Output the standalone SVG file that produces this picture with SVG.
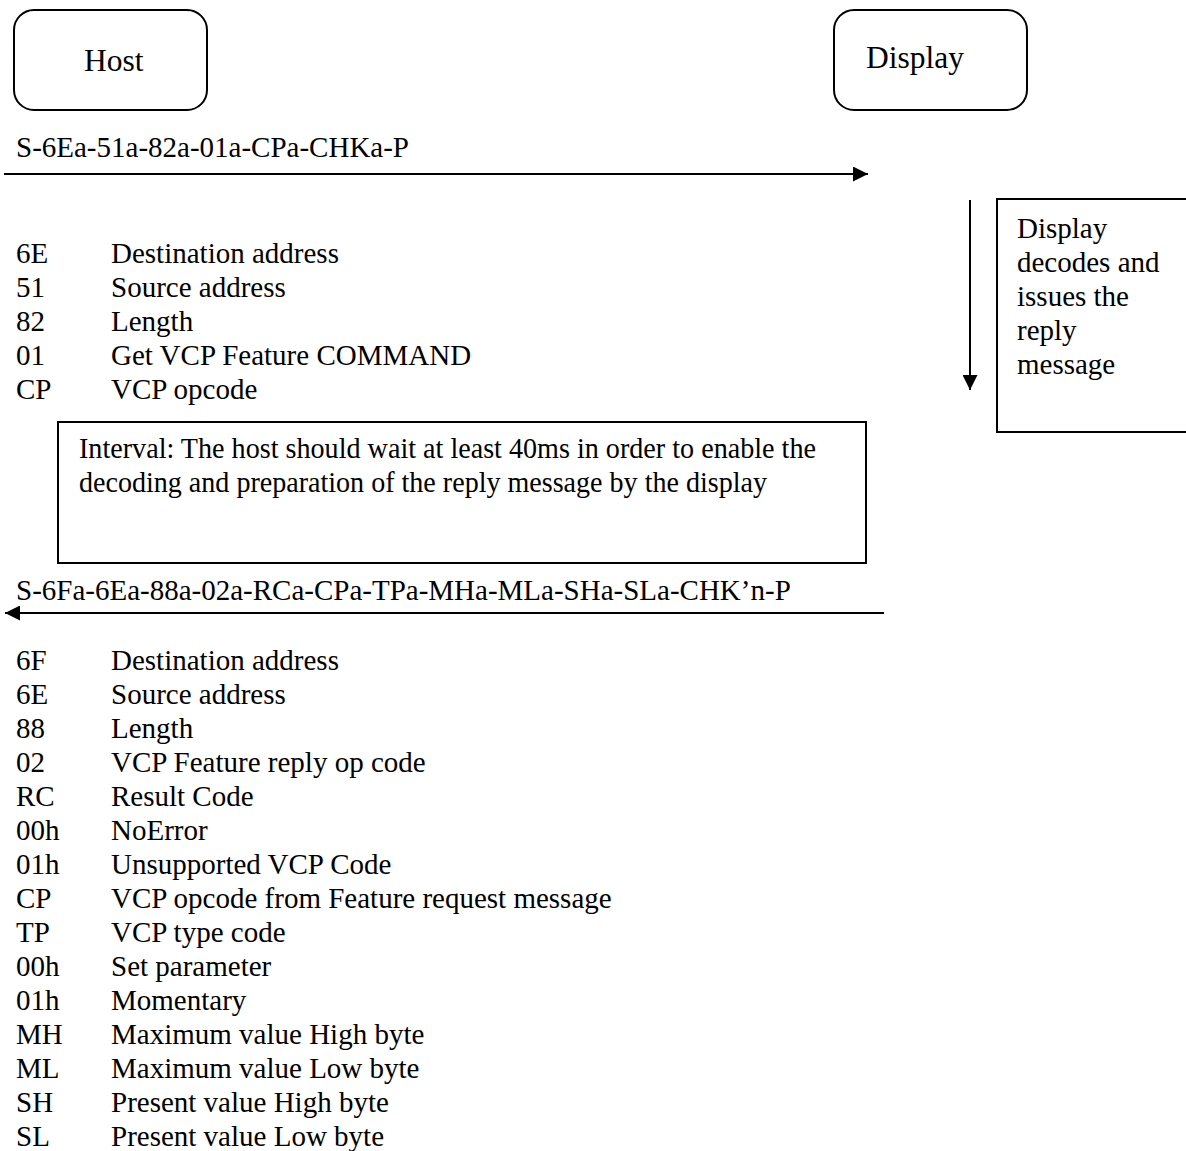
<svg xmlns="http://www.w3.org/2000/svg" width="1186" height="1151" viewBox="0 0 1186 1151">
<defs>
<style>
text{font-family:"Liberation Serif","Times New Roman",serif;fill:#000}
.t{font-size:29px}
.lbl{font-size:31.5px}
.box{fill:#fff;stroke:#000;stroke-width:2}
.ln{stroke:#000;stroke-width:2;fill:none}
</style>
<marker id="ah" viewBox="0 0 10 10" refX="10" refY="5" markerWidth="15" markerHeight="15" markerUnits="userSpaceOnUse" orient="auto">
<path d="M0,0 L10,5 L0,10 z" fill="#000"/>
</marker>
</defs>
<rect width="1186" height="1151" fill="#fff"/>
<g id="host">
<rect class="box" x="14" y="10" width="193" height="100" rx="20"/>
<text class="lbl" x="84" y="71">Host</text>
</g>
<g id="display">
<rect class="box" x="834" y="10" width="193" height="100" rx="20"/>
<text class="lbl" x="866" y="68">Display</text>
</g>
<g id="connectors">
<line class="ln" x1="4" y1="174" x2="868" y2="174" marker-end="url(#ah)"/>
<line class="ln" x1="970" y1="200" x2="970" y2="390" marker-end="url(#ah)"/>
<line class="ln" x1="884" y1="613" x2="5" y2="613" marker-end="url(#ah)"/>
</g>
<text class="t" x="16" y="157">S-6Ea-51a-82a-01a-CPa-CHKa-P</text>
<g id="decode-note">
<rect class="box" x="997" y="199" width="200" height="233"/>
<text class="t" x="1017" y="238">Display</text>
<text class="t" x="1017" y="272">decodes and</text>
<text class="t" x="1017" y="306">issues the</text>
<text class="t" x="1017" y="340">reply</text>
<text class="t" x="1017" y="374">message</text>
</g>
<g id="request-fields" class="t">
<text x="16" y="263">6E</text><text x="111" y="263">Destination address</text>
<text x="16" y="297">51</text><text x="111" y="297">Source address</text>
<text x="16" y="331">82</text><text x="111" y="331">Length</text>
<text x="16" y="365">01</text><text x="111" y="365">Get VCP Feature COMMAND</text>
<text x="16" y="399">CP</text><text x="111" y="399">VCP opcode</text>
</g>
<g id="interval">
<rect class="box" x="58" y="422" width="808" height="141"/>
<text class="t" x="79" y="458" textLength="737" lengthAdjust="spacingAndGlyphs">Interval: The host should wait at least 40ms in order to enable the</text>
<text class="t" x="79" y="492" textLength="688" lengthAdjust="spacingAndGlyphs">decoding and preparation of the reply message by the display</text>
</g>
<text class="t" x="16" y="600">S-6Fa-6Ea-88a-02a-RCa-CPa-TPa-MHa-MLa-SHa-SLa-CHK’n-P</text>
<g id="reply-fields" class="t">
<text x="16" y="670">6F</text><text x="111" y="670">Destination address</text>
<text x="16" y="704">6E</text><text x="111" y="704">Source address</text>
<text x="16" y="738">88</text><text x="111" y="738">Length</text>
<text x="16" y="772">02</text><text x="111" y="772">VCP Feature reply op code</text>
<text x="16" y="806">RC</text><text x="111" y="806">Result Code</text>
<text x="16" y="840">00h</text><text x="111" y="840">NoError</text>
<text x="16" y="874">01h</text><text x="111" y="874">Unsupported VCP Code</text>
<text x="16" y="908">CP</text><text x="111" y="908">VCP opcode from Feature request message</text>
<text x="16" y="942">TP</text><text x="111" y="942">VCP type code</text>
<text x="16" y="976">00h</text><text x="111" y="976">Set parameter</text>
<text x="16" y="1010">01h</text><text x="111" y="1010">Momentary</text>
<text x="16" y="1044">MH</text><text x="111" y="1044">Maximum value High byte</text>
<text x="16" y="1078">ML</text><text x="111" y="1078">Maximum value Low byte</text>
<text x="16" y="1112">SH</text><text x="111" y="1112">Present value High byte</text>
<text x="16" y="1146">SL</text><text x="111" y="1146">Present value Low byte</text>
</g>
</svg>
